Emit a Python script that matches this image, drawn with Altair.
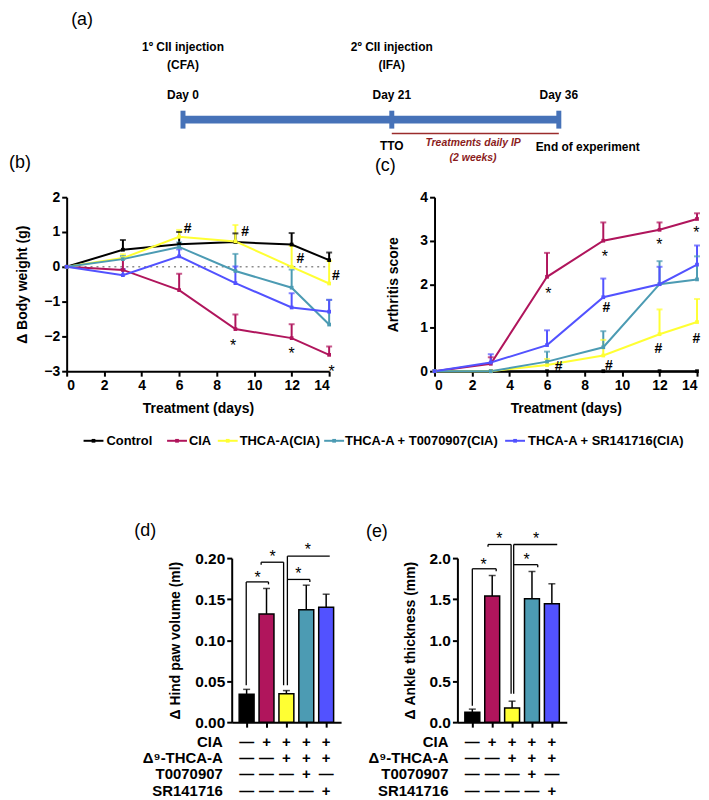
import altair as alt
import pandas as pd

FONT = "Liberation Sans, Arial, Helvetica, sans-serif"

# ---------------- data ----------------
groups = ["Control", "CIA", "THCA-A(CIA)", "THCA-A + T0070907(CIA)", "THCA-A + SR141716(CIA)"]
group_colors = ["#000000", "#b0155c", "#ffff33", "#4c9bb3", "#5252ff"]
bar_colors = ["#000000", "#b30b5c", "#ffff3a", "#5599b2", "#5858f5"]
days = [0, 3, 6, 9, 12, 14]

# (b) body weight change
bw_control = [0, 0.49, 0.65, 0.71, 0.64, 0.19]
bw_control_err = [0, 0.28, 0.35, 0.25, 0.33, 0.22]
bw_cia = [0, -0.09, -0.67, -1.79, -2.05, -2.53]
bw_cia_err = [0, 0.33, 0.47, 0.42, 0.40, 0.24]
bw_thca = [0, 0.25, 0.86, 0.73, 0.00, -0.48]
bw_thca_err = [0, 0.11, 0.20, 0.47, 0.60, 0.65]
bw_t007 = [0, 0.22, 0.57, -0.12, -0.60, -1.66]
bw_t007_err = [0, 0.09, 0.13, 0.49, 0.52, 0.71]
bw_sr = [0, -0.24, 0.30, -0.47, -1.17, -1.29]
bw_sr_err = [0, 0.17, 0.20, 0.48, 0.41, 0.34]
bw_sym = ["#", "#", "#", "#", "*", "*", "*"]
bw_sym_day = [6.45, 9.52, 12.47, 14.36, 8.88, 12.0, 14.13]
bw_sym_y = [1.09, 0.99, 0.23, -0.26, -2.17, -2.40, -2.91]

# (c) arthritis score
as_control = [0, 0, 0, 0, 0, 0]
as_control_err = [0, 0, 0, 0, 0, 0]
as_cia = [0, 0.17, 2.17, 3.0, 3.25, 3.5]
as_cia_err = [0, 0.15, 0.55, 0.42, 0.17, 0.13]
as_thca = [0, 0, 0.14, 0.36, 0.85, 1.13]
as_thca_err = [0, 0, 0.14, 0.36, 0.57, 0.53]
as_t007 = [0, 0, 0.22, 0.55, 2.0, 2.11]
as_t007_err = [0, 0, 0.23, 0.37, 0.53, 0.53]
as_sr = [0, 0.2, 0.6, 1.7, 2.0, 2.45]
as_sr_err = [0, 0.19, 0.34, 0.43, 0.40, 0.44]
as_sym = ["*", "*", "*", "*", "#", "#", "#", "#", "#"]
as_sym_day = [6.07, 9.09, 11.99, 13.96, 9.16, 6.62, 9.3, 11.94, 13.96]
as_sym_y = [1.87, 2.72, 3.0, 3.26, 1.46, 0.09, 0.13, 0.52, 0.75]

# (d) hind paw volume, (e) ankle thickness
paw_mean = [0.034, 0.132, 0.0345, 0.137, 0.140]
paw_err = [0.006, 0.031, 0.004, 0.030, 0.016]
ankle_mean = [0.122, 1.537, 0.174, 1.504, 1.443]
ankle_err = [0.037, 0.251, 0.082, 0.333, 0.244]
# brackets: x_left, x_right, y, left_leg_bottom, right_leg_bottom, star_x, star_y
paw_brackets = [
    (0.98, 2.10, 0.171, 0.045, 0.168, 1.55, 0.181),
    (1.73, 2.86, 0.195, 0.192, 0.045, 2.30, 0.2065),
    (3.05, 5.18, 0.2024, 0.045, 0.2024, 4.08, 0.2146),
    (3.05, 4.18, 0.174, 0.174, 0.171, 3.60, 0.185),
]
ankle_brackets = [
    (1.00, 2.20, 1.87, 0.20, 1.84, 1.57, 1.97),
    (1.79, 2.95, 2.166, 2.14, 0.345, 2.36, 2.28),
    (3.08, 5.27, 2.166, 0.345, 2.166, 4.21, 2.28),
    (3.08, 4.29, 1.92, 1.92, 1.89, 3.73, 2.02),
]
table_rows = ["CIA", "Δ⁹-THCA-A", "T0070907", "SR141716"]
table_signs = [
    ["—", "+", "+", "+", "+"],
    ["—", "—", "+", "+", "+"],
    ["—", "—", "—", "+", "—"],
    ["—", "—", "—", "—", "+"],
]

# (a) timeline
tl_days = [0, 21, 36]
tl_day_labels = ["Day 0", "Day 21", "Day 36"]
inj_days = [0, 21]
inj_line1 = ["1º CII injection", "2º CII injection"]
inj_line2 = ["(CFA)", "(IFA)"]
treat_start = 21
treat_end = 36

# ---------------- layout constants ----------------
LW, LH = 264, 175      # line panels
BW, BH = 110, 165      # bar panels
table_y = [185, 201, 217, 234]
legend_sym_x = [17, 101, 152, 259, 441]
legend_txt_x = [40, 123, 174, 280, 464]

color_enc = alt.Color("group:N", scale=alt.Scale(domain=groups, range=group_colors), legend=None)


def series_frame(means, errs):
    rows = []
    for g, m_list, e_list in zip(groups, means, errs):
        for d, m, e in zip(days, m_list, e_list):
            rows.append({"group": g, "day": d, "mean": m, "err": e, "top": m + e})
    return pd.DataFrame(rows)


def line_panel(df, sym, sym_day, sym_y, ydom, yvals, ytitle, ytitle_x, label, label_x, label_y, zero_line):
    xs = alt.Scale(domain=[0, 14], nice=False, zero=False)
    ys = alt.Scale(domain=ydom, nice=False, zero=False)
    xax = alt.Axis(values=list(range(0, 15, 2)), title="Treatment (days)", titleX=LW / 2, titleY=38,
                   titleBaseline="middle", titleAlign="center")
    yax = alt.Axis(values=yvals, title=ytitle, titleX=ytitle_x, titleY=LH / 2,
                   titleBaseline="middle", titleAlign="center")
    X = alt.X("day:Q", scale=xs, axis=xax)

    def Y(f):
        return alt.Y(f, scale=ys, axis=yax)

    base = alt.Chart(df)
    errs = base.transform_filter("datum.err > 0")
    layers = []
    if zero_line:
        layers.append(
            alt.Chart(pd.DataFrame({"day": [0], "day2": [14], "mean": [0]}))
            .mark_rule(color="#8c8c8c", strokeDash=[2, 4], strokeWidth=1.5)
            .encode(x=X, x2="day2:Q", y=Y("mean:Q"))
        )
    layers.append(errs.mark_rule(strokeWidth=2).encode(x=X, y=Y("mean:Q"), y2="top:Q", color=color_enc))
    layers.append(errs.mark_tick(orient="horizontal", size=6, thickness=2).encode(x=X, y=Y("top:Q"), color=color_enc))
    layers.append(base.mark_line(strokeWidth=2).encode(x=X, y=Y("mean:Q"), color=color_enc))
    layers.append(base.mark_point(shape="square", filled=True, size=14, opacity=1).encode(x=X, y=Y("mean:Q"), color=color_enc))
    sdf = pd.DataFrame({"sym": sym, "day": sym_day, "mean": sym_y})
    layers.append(
        alt.Chart(sdf).transform_filter("datum.sym == '*'")
        .mark_text(fontSize=16, dy=4, baseline="middle", color="black")
        .encode(x=X, y=Y("mean:Q"), text="sym:N")
    )
    layers.append(
        alt.Chart(sdf).transform_filter("datum.sym == '#'")
        .mark_text(fontSize=14, fontWeight="bold", baseline="middle", color="black")
        .encode(x=X, y=Y("mean:Q"), text="sym:N")
    )
    layers.append(
        alt.Chart(pd.DataFrame({"t": [label]}))
        .mark_text(fontSize=18, align="left", baseline="middle", color="black")
        .encode(x=alt.value(label_x), y=alt.value(label_y), text="t:N")
    )
    return alt.layer(*layers).properties(width=LW, height=LH)


def bar_panel(means, errs, ydom, yvals, yfmt, ytitle, ytitle_x, brackets, label, label_x, label_y):
    df = pd.DataFrame({"group": groups, "pos": list(range(1, len(groups) + 1)), "val": means,
                       "top": [m + e for m, e in zip(means, errs)]})
    xs = alt.Scale(domain=[0.5, 5.5], nice=False, zero=False)
    ys = alt.Scale(domain=ydom, nice=False)
    xax = alt.Axis(values=[1, 2, 3, 4, 5], labels=False, title=None)
    yax = alt.Axis(values=yvals, format=yfmt, title=ytitle, titleX=ytitle_x, titleY=BH / 2,
                   titleBaseline="middle", titleAlign="center", labelFontSize=15.5)
    X = alt.X("pos:Q", scale=xs, axis=xax)

    def Y(f):
        return alt.Y(f, scale=ys, axis=yax)

    bcolor = alt.Color("group:N", scale=alt.Scale(domain=groups, range=bar_colors), legend=None)
    layers = [
        alt.Chart(df).mark_rule(strokeWidth=1.5, color="black").encode(x=X, y=Y("val:Q"), y2="top:Q"),
        alt.Chart(df).mark_tick(orient="horizontal", size=7, thickness=1.5, color="black").encode(x=X, y=Y("top:Q")),
        alt.Chart(df).mark_bar(size=15, stroke="black", strokeWidth=1.5, orient="vertical")
        .encode(x=X, y=Y("val:Q"), color=bcolor),
    ]
    segs = []
    stars = []
    for (xl, xr, yb, lb, rb, sx, sy) in brackets:
        segs.append((xl, xr, yb, yb))
        if lb != yb:
            segs.append((xl, xl, yb, lb))
        if rb != yb:
            segs.append((xr, xr, yb, rb))
        stars.append((sx, sy))
    segdf = pd.DataFrame(segs, columns=["pos", "pos2", "val", "val2"])
    stardf = pd.DataFrame(stars, columns=["pos", "val"])
    layers.append(alt.Chart(segdf).mark_rule(strokeWidth=1.3, color="black")
                  .encode(x=X, x2="pos2:Q", y=Y("val:Q"), y2="val2:Q"))
    layers.append(alt.Chart(stardf).mark_text(text="*", fontSize=16, dy=4, baseline="middle", color="black")
                  .encode(x=X, y=Y("val:Q")))
    for rlabel, signs, ty in zip(table_rows, table_signs, table_y):
        tdf = pd.DataFrame({"pos": list(range(1, 6)), "s": signs})
        layers.append(alt.Chart(tdf).mark_text(fontSize=15, fontWeight="bold", baseline="middle", color="black")
                      .encode(x=X, y=alt.value(ty), text="s:N"))
        layers.append(alt.Chart(pd.DataFrame({"t": [rlabel]}))
                      .mark_text(fontSize=15, fontWeight="bold", align="right", baseline="middle", color="black")
                      .encode(x=alt.value(-9), y=alt.value(ty), text="t:N"))
    layers.append(alt.Chart(pd.DataFrame({"t": [label]}))
                  .mark_text(fontSize=18, align="left", baseline="middle", color="black")
                  .encode(x=alt.value(label_x), y=alt.value(label_y), text="t:N"))
    return alt.layer(*layers).properties(width=BW, height=BH)


def spacer(w, h):
    return alt.Chart(pd.DataFrame({"a": [0]})).mark_point(opacity=0).encode(
        x=alt.value(0), y=alt.value(0)).properties(width=w, height=h)


# ---------------- (a) timeline ----------------
TLW, TLH = 580, 161
tl_scale = alt.Scale(domain=tl_days, range=[117, 327, 495], nice=False, zero=False)
TX = alt.X("day:Q", scale=tl_scale, axis=None)
tl_blue = "#4672b8"
tl_red = "#9b2c2c"
span_df = pd.DataFrame({"day": [tl_days[0]], "day2": [tl_days[-1]]})
treat_df = pd.DataFrame({"day": [treat_start], "day2": [treat_end]})
days_df = pd.DataFrame({"day": tl_days, "lab": tl_day_labels})
inj_df = pd.DataFrame({"day": inj_days, "l1": inj_line1, "l2": inj_line2})
bold12 = dict(fontSize=12, fontWeight="bold", baseline="middle", color="black")

timeline = alt.layer(
    alt.Chart(span_df).mark_rule(strokeWidth=8, color=tl_blue).encode(x=TX, x2="day2:Q", y=alt.value(109)),
    alt.Chart(days_df).mark_rule(strokeWidth=5, color=tl_blue).encode(x=TX, y=alt.value(100), y2=alt.value(118)),
    alt.Chart(treat_df).mark_rule(strokeWidth=1.5, color=tl_red).encode(x=TX, x2="day2:Q", y=alt.value(123)),
    alt.Chart(days_df).mark_text(**bold12).encode(x=TX, y=alt.value(84), text="lab:N"),
    alt.Chart(inj_df).mark_text(**bold12).encode(x=TX, y=alt.value(36), text="l1:N"),
    alt.Chart(inj_df).mark_text(**bold12).encode(x=TX, y=alt.value(54), text="l2:N"),
    alt.Chart(pd.DataFrame({"day": [treat_start], "t": ["TTO"]})).mark_text(**bold12)
    .encode(x=TX, y=alt.value(136), text="t:N"),
    alt.Chart(pd.DataFrame({"day": [treat_end], "t": ["End of experiment"]})).mark_text(dx=29, **bold12)
    .encode(x=TX, y=alt.value(137), text="t:N"),
    alt.Chart(pd.DataFrame({"day": [28.3], "t": ["Treatments daily IP"]}))
    .mark_text(fontSize=10.5, fontWeight="bold", fontStyle="italic", baseline="middle", color="#8b1c1c")
    .encode(x=TX, y=alt.value(133), text="t:N"),
    alt.Chart(pd.DataFrame({"day": [28.3], "t": ["(2 weeks)"]}))
    .mark_text(fontSize=10.5, fontWeight="bold", fontStyle="italic", baseline="middle", color="#8b1c1c")
    .encode(x=TX, y=alt.value(148), text="t:N"),
    alt.Chart(pd.DataFrame({"t": ["(a)"]})).mark_text(fontSize=18, baseline="middle", color="black")
    .encode(x=alt.value(15.5), y=alt.value(9), text="t:N"),
).properties(width=TLW, height=TLH)

# ---------------- (b), (c) ----------------
bw_df = series_frame([bw_control, bw_cia, bw_thca, bw_t007, bw_sr],
                     [bw_control_err, bw_cia_err, bw_thca_err, bw_t007_err, bw_sr_err])
as_df = series_frame([as_control, as_cia, as_thca, as_t007, as_sr],
                     [as_control_err, as_cia_err, as_thca_err, as_t007_err, as_sr_err])

panel_b = line_panel(bw_df, bw_sym, bw_sym_day, bw_sym_y, [-3, 2], [-3, -2, -1, 0, 1, 2],
                     "Δ Body weight (g)", -44, "(b)", -58, -34, True)
panel_c = line_panel(as_df, as_sym, as_sym_day, as_sym_y, [0, 4], [0, 1, 2, 3, 4],
                     "Arthritis score", -41, "(c)", -60, -31, False)

# ---------------- legend ----------------
leg_df = pd.DataFrame({"group": groups, "sx": legend_sym_x, "tx": legend_txt_x})
leg_df["sx2"] = leg_df["sx"] + 20
leg_df["sm"] = leg_df["sx"] + 10
legend_row = alt.layer(
    alt.Chart(leg_df).mark_rule(strokeWidth=2).encode(
        x=alt.X("sx:Q", scale=None, axis=None), x2="sx2:Q", y=alt.value(7), color=color_enc),
    alt.Chart(leg_df).mark_point(shape="square", filled=True, size=14, opacity=1).encode(
        x=alt.X("sm:Q", scale=None, axis=None), y=alt.value(7), color=color_enc),
    alt.Chart(leg_df).mark_text(align="left", baseline="middle", fontSize=13, fontWeight="bold", color="black").encode(
        x=alt.X("tx:Q", scale=None, axis=None), y=alt.value(7), text="group:N"),
).properties(width=620, height=14)

# ---------------- (d), (e) ----------------
panel_d = bar_panel(paw_mean, paw_err, [0, 0.2], [0, 0.05, 0.10, 0.15, 0.20], ".2f",
                    "Δ Hind paw volume (ml)", -57, paw_brackets, "(d)", -98, -27)
panel_e = bar_panel(ankle_mean, ankle_err, [0, 2], [0, 0.5, 1.0, 1.5, 2.0], ".1f",
                    "Δ Ankle thickness (mm)", -47, ankle_brackets, "(e)", -92, -26)

# with flush bounds a nested concat counts as zero-size, so its height goes into the spacing
row_b = alt.hconcat(panel_b, panel_c, spacing=106, bounds="flush")
row_d = alt.hconcat(spacer(156, BH), panel_d, spacer(97, BH), panel_e, spacing=10, bounds="flush")
inner2 = alt.vconcat(legend_row, row_d, spacing=111, bounds="flush")
inner1 = alt.vconcat(row_b, inner2, spacing=LH + 63, bounds="flush")

chart = alt.vconcat(timeline, inner1, spacing=26, bounds="flush").properties(
    padding={"left": 1, "top": 1, "right": 0, "bottom": 0}
).configure(font=FONT).configure_view(stroke=None).configure_axis(
    domainColor="black", domainWidth=2, tickColor="black", tickWidth=2, tickSize=5,
    labelColor="black", labelFont=FONT, labelFontSize=14, labelFontWeight="bold", labelPadding=2,
    titleFont=FONT, titleFontSize=14, titleFontWeight="bold", titleColor="black", grid=False,
).configure_text(font=FONT)

chart.save("out.html", embed_options={"renderer": "svg", "actions": False})
